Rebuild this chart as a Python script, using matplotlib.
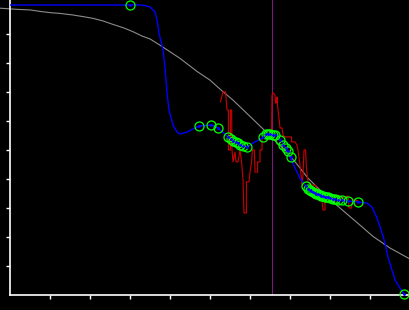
import numpy as np
import matplotlib
matplotlib.use("Agg")
import matplotlib.pyplot as plt

# ======================
# DATOS
# ======================
gris_x = [-0.025, 0.0175, 0.05, 0.08, 0.105, 0.125, 0.155, 0.1825, 0.2075, 0.2325,
          0.2575, 0.2825, 0.3075, 0.33, 0.35, 0.38, 0.425, 0.4675, 0.50, 0.525,
          0.5575, 0.60, 0.6375, 0.655, 0.6875, 0.715, 0.745, 0.7875, 0.825, 0.875,
          0.9075, 0.95, 1.0]
gris_y = [0.989, 0.985, 0.983, 0.977, 0.973, 0.971, 0.966, 0.960, 0.954, 0.945,
          0.933, 0.922, 0.908, 0.893, 0.883, 0.857, 0.816, 0.771, 0.741, 0.710,
          0.672, 0.616, 0.566, 0.541, 0.500, 0.455, 0.403, 0.345, 0.300, 0.241,
          0.202, 0.162, 0.124]

azul_x = [0.0, 0.325, 0.3375, 0.35, 0.3625, 0.3675, 0.3725, 0.3825, 0.3875, 0.3925,
          0.3975, 0.4075, 0.4175, 0.425, 0.4425, 0.4725, 0.505, 0.52, 0.545, 0.5575,
          0.57, 0.58, 0.5925, 0.6125, 0.63, 0.6425, 0.655, 0.6675, 0.68, 0.6875,
          0.70, 0.7125, 0.725, 0.7375, 0.745, 0.775, 0.8075, 0.8425, 0.87, 0.8925,
          0.905, 0.9175, 0.93, 0.9375, 0.945, 0.955, 0.9625, 0.975, 0.985]
azul_y = [1.0, 1.0, 0.998, 0.993, 0.976, 0.948, 0.903, 0.845, 0.786, 0.697,
          0.638, 0.586, 0.562, 0.555, 0.562, 0.583, 0.586, 0.576, 0.545, 0.534,
          0.524, 0.517, 0.510, 0.528, 0.541, 0.555, 0.552, 0.552, 0.528, 0.510,
          0.476, 0.438, 0.403, 0.379, 0.366, 0.345, 0.331, 0.324, 0.321, 0.317,
          0.303, 0.266, 0.214, 0.179, 0.131, 0.086, 0.052, 0.024, 0.003]

rojo_x = [0.526, 0.5325, 0.539, 0.5425, 0.546, 0.546, 0.551, 0.551, 0.554, 0.555,
          0.5575, 0.5625, 0.565, 0.57, 0.575, 0.579, 0.5825, 0.585, 0.591, 0.591,
          0.5975, 0.60, 0.604, 0.606, 0.611, 0.6125, 0.619, 0.619, 0.625, 0.625,
          0.63, 0.63, 0.635, 0.6425, 0.654, 0.655, 0.6575, 0.6625, 0.664, 0.666,
          0.6675, 0.67, 0.6725, 0.675, 0.68, 0.6825, 0.6875, 0.704, 0.704, 0.7125,
          0.7175, 0.72, 0.725, 0.7275, 0.73, 0.7325, 0.735, 0.739, 0.741, 0.745,
          0.755, 0.7625, 0.77, 0.779, 0.7825, 0.7875, 0.7875, 0.804, 0.8125, 0.82,
          0.8275, 0.835, 0.845, 0.8475, 0.854, 0.856, 0.8625, 0.87]
rojo_y = [0.666, 0.700, 0.700, 0.638, 0.638, 0.500, 0.500, 0.638, 0.638, 0.500,
          0.459, 0.493, 0.459, 0.459, 0.500, 0.459, 0.397, 0.283, 0.283, 0.390,
          0.390, 0.424, 0.459, 0.500, 0.500, 0.424, 0.424, 0.459, 0.459, 0.500,
          0.500, 0.541, 0.548, 0.541, 0.552, 0.690, 0.697, 0.690, 0.662, 0.662,
          0.683, 0.638, 0.610, 0.576, 0.576, 0.552, 0.545, 0.545, 0.528, 0.528,
          0.517, 0.500, 0.448, 0.414, 0.379, 0.414, 0.500, 0.500, 0.438, 0.390,
          0.379, 0.379, 0.362, 0.334, 0.293, 0.293, 0.345, 0.345, 0.334, 0.345,
          0.328, 0.338, 0.341, 0.300, 0.300, 0.328, 0.328, 0.324]

puntos_x = [0.30, 0.4725, 0.5025, 0.52, 0.545, 0.5525, 0.5575, 0.565, 0.57, 0.575,
            0.5825, 0.5925, 0.6325, 0.64, 0.645, 0.65, 0.6575, 0.6625, 0.675, 0.6825,
            0.69, 0.695, 0.7025, 0.74, 0.745, 0.75, 0.7525, 0.7575, 0.7625, 0.765,
            0.77, 0.775, 0.7775, 0.7825, 0.7875, 0.79, 0.795, 0.80, 0.8075, 0.8125,
            0.82, 0.83, 0.845, 0.87, 0.985]
puntos_y = [1.0, 0.583, 0.586, 0.576, 0.545, 0.538, 0.531, 0.528, 0.524, 0.517,
            0.514, 0.510, 0.545, 0.555, 0.555, 0.555, 0.552, 0.552, 0.534, 0.517,
            0.507, 0.497, 0.476, 0.376, 0.366, 0.362, 0.359, 0.355, 0.352, 0.350,
            0.348, 0.345, 0.343, 0.341, 0.338, 0.338, 0.338, 0.334, 0.331, 0.330,
            0.328, 0.328, 0.324, 0.321, 0.003]

linea_vertical = 0.654
ticks = [0.1, 0.2, 0.3, 0.4, 0.5, 0.6, 0.7, 0.8, 0.9]

# ======================
# GRAFICO
# ======================
fig = plt.figure(figsize=(4.1, 3.1), dpi=100, facecolor="black")
ax = fig.add_axes([10 / 410, 15 / 310, 400 / 410, 295 / 310])
ax.set_facecolor("black")

ax.plot(gris_x, gris_y, color="#8c8c8c", lw=0.8, clip_on=False, zorder=1)
ax.axvline(linea_vertical, color="#7a1a7a", lw=0.8, zorder=2)
ax.plot(rojo_x, rojo_y, color="#cc0000", lw=0.8, zorder=3)
ax.plot(azul_x, azul_y, color="#0000ff", lw=1.0, zorder=4)
ax.plot(puntos_x, puntos_y, "o", ms=6.5, mfc="none", mec="#00ff00", mew=0.9,
        zorder=5, clip_on=False)
ax.plot(puntos_x, puntos_y, ".", ms=2, color="#0000ff", zorder=6, clip_on=False)

ax.set_xlim(0, 1)
ax.set_ylim(0, 295 / 290)
ax.set_xticks(ticks)
ax.set_yticks(ticks)
ax.set_xticklabels([])
ax.set_yticklabels([])
ax.tick_params(colors="white", length=3, width=1, direction="out")
for lado in ["top", "right"]:
    ax.spines[lado].set_visible(False)
for lado in ["left", "bottom"]:
    ax.spines[lado].set_color("white")
    ax.spines[lado].set_linewidth(1.2)

fig.savefig("out.png", dpi=100, facecolor="black")
